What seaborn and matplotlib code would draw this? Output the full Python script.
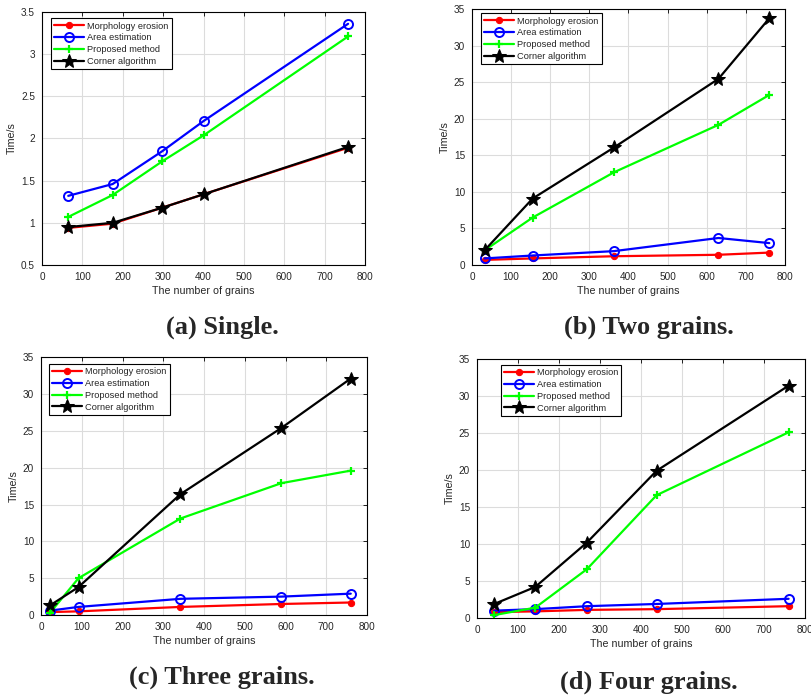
import numpy as np
import matplotlib
matplotlib.use('Agg')
import matplotlib.pyplot as plt
import seaborn as sns

# ──────────────────────────────────────────────
# DADOS
# ──────────────────────────────────────────────
x_single      = [65, 175, 298, 401, 758]
morph_single  = [0.94, 0.99, 1.18, 1.34, 1.89]
area_single   = [1.32, 1.46, 1.85, 2.21, 3.36]
prop_single   = [1.07, 1.33, 1.73, 2.04, 3.21]
corner_single = [0.95, 1.00, 1.18, 1.34, 1.90]

x_two      = [32, 155, 363, 630, 760]
morph_two  = [0.7, 0.9, 1.2, 1.4, 1.7]
area_two   = [0.9, 1.3, 1.9, 3.7, 3.0]
prop_two   = [2.0, 6.5, 12.7, 19.2, 23.3]
corner_two = [2.0, 9.1, 16.1, 25.5, 33.8]

x_three      = [22, 92, 342, 590, 760]
morph_three  = [0.4, 0.5, 1.1, 1.5, 1.7]
area_three   = [0.6, 1.1, 2.2, 2.5, 2.9]
prop_three   = [0.3, 5.0, 13.1, 17.9, 19.6]
corner_three = [1.3, 3.8, 16.4, 25.4, 32.1]

x_four      = [42, 142, 268, 438, 760]
morph_four  = [0.8, 0.9, 1.1, 1.2, 1.6]
area_four   = [1.0, 1.2, 1.6, 1.9, 2.6]
prop_four   = [0.4, 1.4, 6.6, 16.6, 25.1]
corner_four = [1.9, 4.2, 10.2, 19.9, 31.4]

series_names = ['Morphology erosion', 'Area estimation', 'Proposed method', 'Corner algorithm']
captions = ['(a) Single.', '(b) Two grains.', '(c) Three grains.', '(d) Four grains.']

# ──────────────────────────────────────────────
# ESTILO
# ──────────────────────────────────────────────
sns.set_theme(style='white')
plt.rcParams['font.family'] = ['Liberation Sans', 'DejaVu Sans']
cinza = '#262626'

estilos = [
    dict(color='#ff0000', marker='o', markersize=4.5, markerfacecolor='#ff0000', markeredgecolor='#ff0000'),
    dict(color='#0000ff', marker='o', markersize=6.5, markerfacecolor='none', markeredgecolor='#0000ff', markeredgewidth=1.4),
    dict(color='#00ff00', marker='+', markersize=6, markerfacecolor='#00ff00', markeredgecolor='#00ff00', markeredgewidth=1.6),
    dict(color='#000000', marker='*', markersize=10, markerfacecolor='#000000', markeredgecolor='#000000'),
]

paineis = [
    (x_single, [morph_single, area_single, prop_single, corner_single]),
    (x_two,    [morph_two, area_two, prop_two, corner_two]),
    (x_three,  [morph_three, area_three, prop_three, corner_three]),
    (x_four,   [morph_four, area_four, prop_four, corner_four]),
]

posicoes = [
    [0.0518, 0.6198, 0.3983, 0.3630],
    [0.5820, 0.6198, 0.3859, 0.3666],
    [0.0506, 0.1176, 0.4020, 0.3700],
    [0.5882, 0.1133, 0.4044, 0.3716],
]
legenda_pos = [(0.028, 0.975), (0.029, 0.985), (0.025, 0.973), (0.073, 0.977)]
caption_pos = [(222, 327), (649, 327), (222, 677), (649, 682)]

fig = plt.figure(figsize=(8.11, 6.97), dpi=100)

for i, (xs, ys_list) in enumerate(paineis):
    ax = fig.add_axes(posicoes[i])
    for nome, ys, st in zip(series_names, ys_list, estilos):
        sns.lineplot(x=xs, y=ys, label=nome, linewidth=1.6, ax=ax, **st)

    ax.set_xlim(0, 800)
    ax.set_xticks(np.arange(0, 801, 100))
    if i == 0:
        ax.set_ylim(0.5, 3.5)
        ax.set_yticks(np.arange(0.5, 3.51, 0.5))
        ax.set_yticklabels(['0.5', '1', '1.5', '2', '2.5', '3', '3.5'])
    else:
        ax.set_ylim(0, 35)
        ax.set_yticks(np.arange(0, 36, 5))

    ax.grid(True, color='#dcdcdc', linewidth=0.8)
    ax.set_axisbelow(True)
    for s in ax.spines.values():
        s.set_color('black')
        s.set_linewidth(0.8)
    ax.tick_params(direction='in', length=3, width=0.6, top=True, right=True,
                   labelsize=7.2, labelcolor=cinza, pad=5, color='black')
    ax.set_xlabel('The number of grains', fontsize=7.7, color=cinza, labelpad=3)
    ax.set_ylabel('Time/s', fontsize=7.7, color=cinza, labelpad=3)

    leg = ax.legend(loc='upper left', bbox_to_anchor=legenda_pos[i], fontsize=6.7,
                    frameon=True, fancybox=False, edgecolor='black', framealpha=1,
                    handlelength=3.2, handletextpad=0.3, labelspacing=0.3,
                    borderpad=0.35, borderaxespad=0)
    leg.get_frame().set_linewidth(0.8)

    cx, cy = caption_pos[i]
    fig.text(cx / 811, 1 - cy / 697, captions[i], ha='center', va='center',
             fontsize=19, fontweight='bold', family=['Liberation Serif', 'DejaVu Serif'])

plt.savefig('out.png', dpi=100)
